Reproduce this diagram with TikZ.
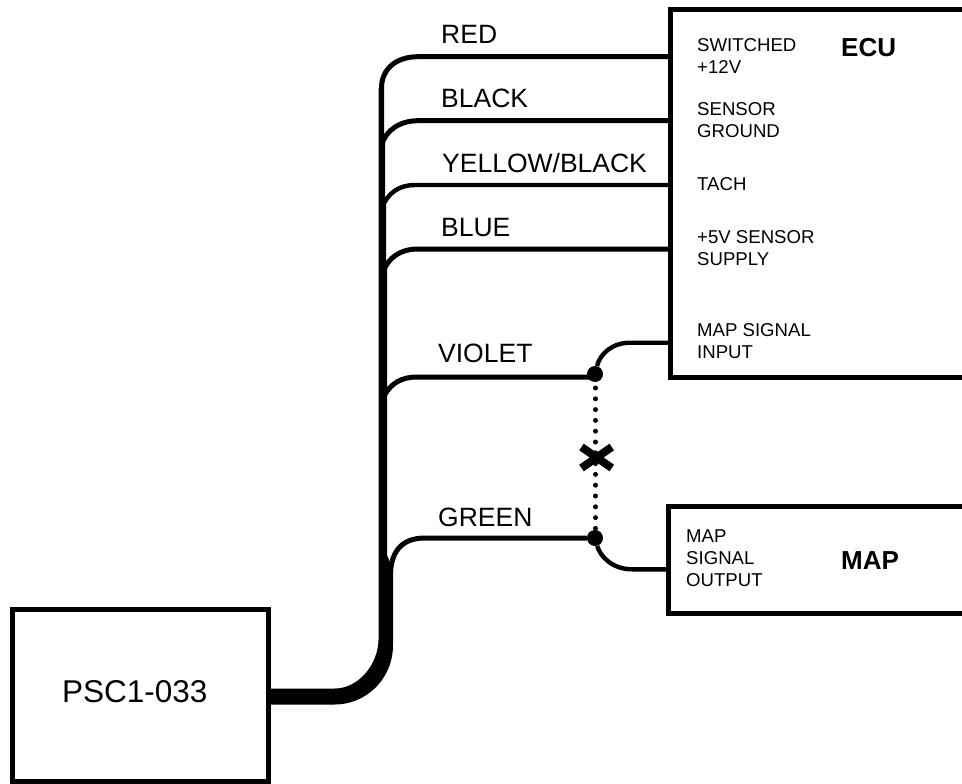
\documentclass[tikz,border=0pt]{standalone}
\usepackage{fontspec}
\setmainfont{Liberation Sans}
\begin{document}
\begin{tikzpicture}[x=1pt,y=-1pt,
  boxs/.style={draw,line width=5pt,rectangle,inner sep=0pt,outer sep=0pt,anchor=north west},
  wire/.style={line width=5pt},
  thinw/.style={line width=4.4pt},
  big/.style={font=\fontsize{26.5}{26.5}\selectfont,anchor=base west,inner sep=0pt},
  small/.style={font=\fontsize{18.6}{22}\selectfont,anchor=north west,inner sep=0pt,align=left},
  head/.style={font=\fontsize{26}{26}\selectfont\bfseries,anchor=base west,inner sep=0pt},
  jdot/.style={circle,fill=black,minimum size=16pt,inner sep=0pt}]
\useasboundingbox (0,0) rectangle (962,784);
\clip (0,0) rectangle (962,784);
% boxes
\node[boxs,minimum width=330pt,minimum height=368pt] (ecu) at (670.3,9.5) {};
\node[boxs,minimum width=330pt,minimum height=107pt] (map) at (668.5,506.5) {};
\node[boxs,minimum width=256pt,minimum height=172pt] (psc) at (12,609.5) {};
% anchors on boxes
\coordinate (eR) at (670,56.7);
\coordinate (eK) at (670,120.7);
\coordinate (eY) at (670,185);
\coordinate (eB) at (670,249);
\coordinate (eM) at (670,342.7);
\coordinate (mO) at (668,569.3);
% junctions
\node[jdot] (jv) at (595,374) {};
\node[jdot] (jg) at (595,538) {};
\coordinate (jvw) at (595,377);
\coordinate (dotA) at (595.5,388);
\coordinate (dotB) at (595.5,530);
% trunk
\coordinate (tTop) at (381.5,88);
\fill (378.5,88) -- (384,88) -- (384,140) -- (385,140) -- (385,205) -- (386,205) -- (386,265)
  -- (387,265) -- (387,555) -- (393,570) -- (393,645)
  .. controls (393,680) and (365,704.5) .. (335,704.5) -- (268,704.5) -- (268,688.5) -- (335,688.5)
  .. controls (358,688.5) and (378,665) .. (378.5,640) -- cycle;
% wires
\draw[wire] (eR) -- (418,56.7) .. controls (395,56.7) and (381.5,70) .. (tTop);
\draw[wire] (eK) -- (418,120.7) .. controls (400,120.7) and (386,130) .. (381.5,145);
\draw[thinw] (eY) -- (415,185) .. controls (400,185) and (388,192) .. (382,208);
\draw[wire] (eB) -- (418,249) .. controls (400,249) and (388,258) .. (383,272);
\draw[wire] (jvw) -- (417,377) .. controls (402,377) and (391,383) .. (384,396);
\draw[wire] (jg) -- (425,538) .. controls (405,538) and (392,548) .. (390.5,572);
\draw[thinw] (eM) -- (630,342.7) .. controls (612,342.7) and (600,354) .. (jv);
\draw[thinw] (mO) -- (632,569.3) .. controls (612,569.3) and (600,556) .. (jg);
\draw[line width=5pt,dash pattern=on 0pt off 10.8pt,line cap=round] (dotA) -- (dotB);
\draw[line width=8pt] (581.5,447) -- (611.75,468) (611.75,447) -- (581.5,468);
% labels
\node[big] (lr) at (441,43.5) {RED};
\node[big] (lk) at (441,107.5) {BLACK};
\node[big] (ly) at (442,172.5) {YELLOW/BLACK};
\node[big] (lb) at (441,236.5) {BLUE};
\node[big] (lv) at (438,362.5) {VIOLET};
\node[big] (lg) at (438,526.5) {GREEN};
\node[small] (s1) at (697,38.5) {SWITCHED\\+12V};
\node[small] (s2) at (697,102.5) {SENSOR\\GROUND};
\node[small] (s3) at (697,177.5) {TACH};
\node[small] (s4) at (697,230.5) {+5V SENSOR\\SUPPLY};
\node[small] (s5) at (697,323.5) {MAP SIGNAL\\INPUT};
\node[small] (s6) at (686,529.5) {MAP\\SIGNAL\\OUTPUT};
\node[head] (he) at (841,57) {ECU};
\node[head] (hm) at (841,569) {MAP};
\node[font=\fontsize{31.5}{31.5}\selectfont,anchor=base west,inner sep=0pt] (hp) at (62,702) {PSC1-033};
\end{tikzpicture}
\end{document}
